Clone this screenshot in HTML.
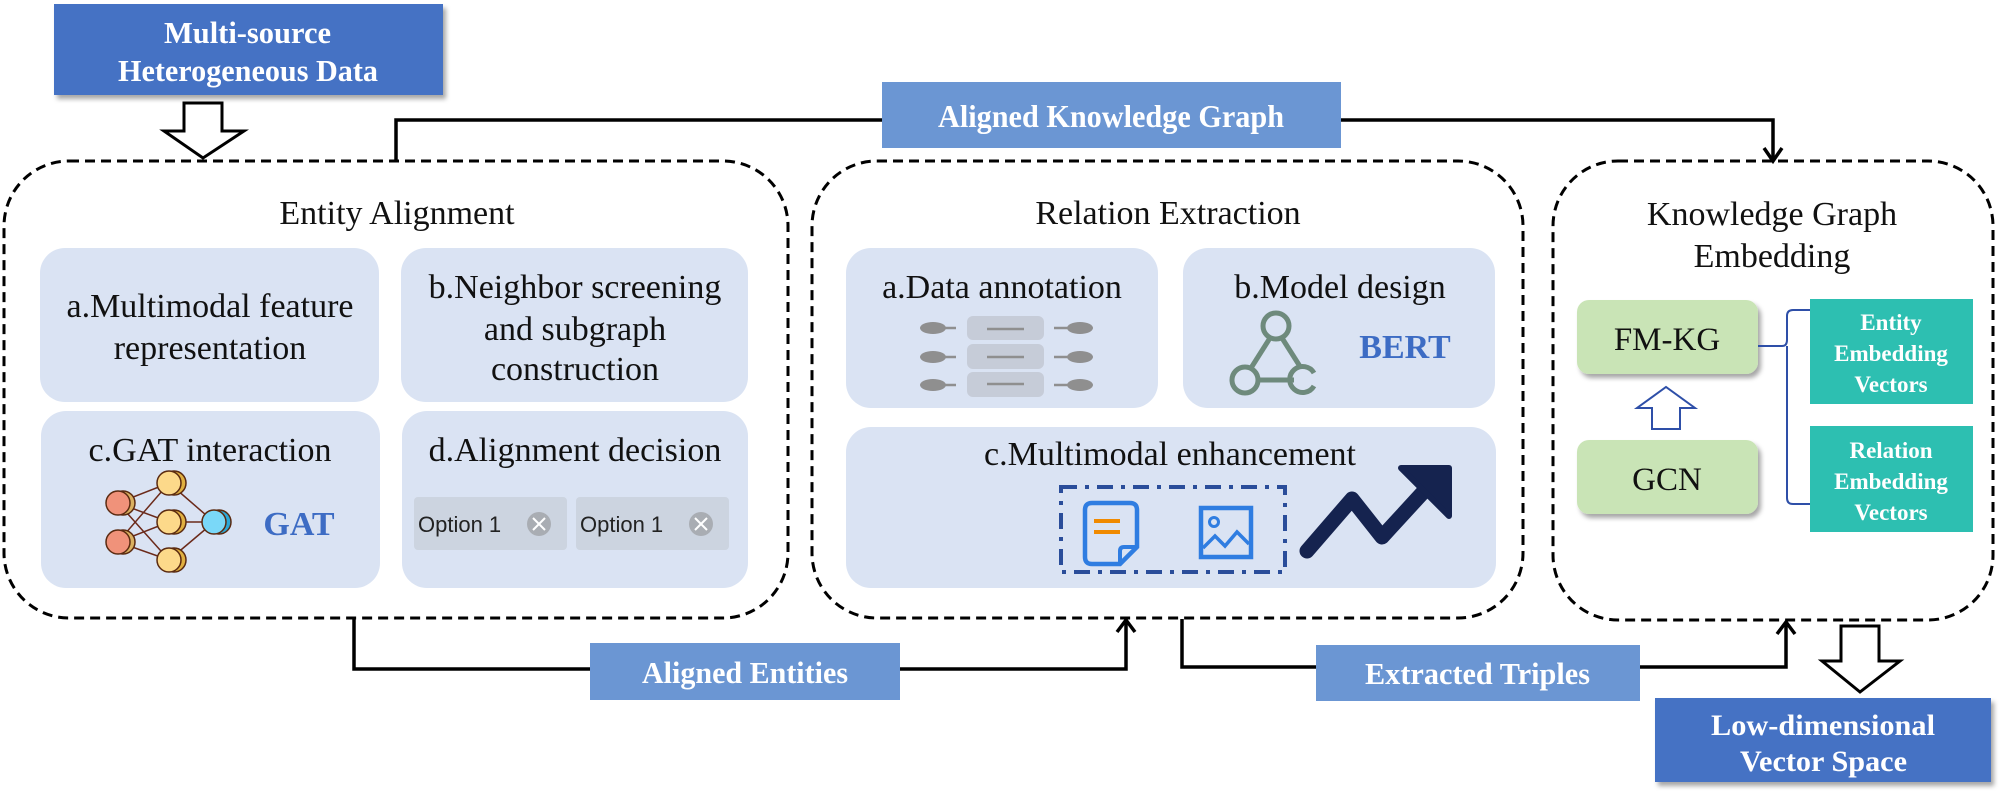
<!DOCTYPE html>
<html><head><meta charset="utf-8"><style>
html,body{margin:0;padding:0;background:#fff}
svg{display:block}
.t{font-family:"Liberation Serif",serif;fill:#111}
.w{font-family:"Liberation Serif",serif;fill:#fff;font-weight:bold}
</style></head><body>
<svg width="2006" height="794" viewBox="0 0 2006 794" xmlns="http://www.w3.org/2000/svg">
<defs>
<filter id="sh" x="-10%" y="-10%" width="130%" height="140%"><feDropShadow dx="3" dy="4" stdDeviation="2.5" flood-color="#000" flood-opacity="0.35"/></filter>
</defs>

<!-- Top blue box -->
<rect x="54" y="4" width="389" height="91" fill="#4472c4" filter="url(#sh)"/>
<text class="w" x="164" y="43" font-size="31" textLength="167" lengthAdjust="spacingAndGlyphs">Multi-source</text>
<text class="w" x="118" y="81" font-size="31" textLength="260" lengthAdjust="spacingAndGlyphs">Heterogeneous Data</text>

<!-- hollow down arrow -->
<path d="M184,103 H222 V131 H244 L203,158 L164,131 H184 Z" fill="#fff" stroke="#000" stroke-width="3"/>

<!-- top connector -->
<path d="M396,161 V120 H1773 V158" fill="none" stroke="#000" stroke-width="3.5"/>
<path d="M1764,148 L1773,161 L1782,148" fill="none" stroke="#000" stroke-width="3.5"/>
<rect x="882" y="82" width="459" height="66" fill="#6b96d3"/>
<text class="w" x="938" y="127" font-size="32" textLength="346" lengthAdjust="spacingAndGlyphs">Aligned Knowledge Graph</text>

<!-- dashed containers -->
<rect x="4" y="161" width="784" height="457" rx="65" fill="none" stroke="#000" stroke-width="3" stroke-dasharray="10 6"/>
<rect x="812" y="161" width="711" height="457" rx="65" fill="none" stroke="#000" stroke-width="3" stroke-dasharray="10 6"/>
<rect x="1553" y="161" width="440" height="459" rx="65" fill="none" stroke="#000" stroke-width="3" stroke-dasharray="10 6"/>

<!-- Entity Alignment -->
<text class="t" x="397" y="224" font-size="34" text-anchor="middle">Entity Alignment</text>
<rect x="40" y="248" width="339" height="154" rx="25" fill="#dae3f3"/>
<rect x="401" y="248" width="347" height="154" rx="25" fill="#dae3f3"/>
<rect x="41" y="411" width="339" height="177" rx="25" fill="#dae3f3"/>
<rect x="402" y="411" width="346" height="177" rx="25" fill="#dae3f3"/>
<text class="t" x="210" y="317" font-size="34" text-anchor="middle">a.Multimodal feature</text>
<text class="t" x="210" y="359" font-size="34" text-anchor="middle">representation</text>
<text class="t" x="575" y="298" font-size="34" text-anchor="middle">b.Neighbor screening</text>
<text class="t" x="575" y="340" font-size="34" text-anchor="middle">and subgraph</text>
<text class="t" x="575" y="380" font-size="34" text-anchor="middle">construction</text>
<text class="t" x="210" y="461" font-size="34" text-anchor="middle">c.GAT interaction</text>
<text class="t" x="575" y="461" font-size="34" text-anchor="middle">d.Alignment decision</text>

<!-- GAT network -->
<g stroke="#6b2a1a" stroke-width="1.5">
<line x1="118" y1="503" x2="169" y2="483"/><line x1="118" y1="503" x2="169" y2="522"/><line x1="118" y1="503" x2="169" y2="560"/>
<line x1="118" y1="542" x2="169" y2="483"/><line x1="118" y1="542" x2="169" y2="522"/><line x1="118" y1="542" x2="169" y2="560"/>
<line x1="169" y1="483" x2="214" y2="522"/><line x1="169" y1="522" x2="214" y2="522"/><line x1="169" y1="560" x2="214" y2="522"/>
</g>
<g stroke="#5a2a10" stroke-width="1.5">
<ellipse cx="123" cy="503" rx="12" ry="12" fill="#d9b060"/><ellipse cx="118" cy="503" rx="12" ry="12" fill="#f0927a"/>
<ellipse cx="123" cy="542" rx="12" ry="12" fill="#d9b060"/><ellipse cx="118" cy="542" rx="12" ry="12" fill="#f0927a"/>
<ellipse cx="174" cy="483" rx="12" ry="12" fill="#e0b040"/><ellipse cx="169" cy="483" rx="12" ry="12" fill="#fcd98a"/>
<ellipse cx="174" cy="522" rx="12" ry="12" fill="#e0b040"/><ellipse cx="169" cy="522" rx="12" ry="12" fill="#fcd98a"/>
<ellipse cx="174" cy="560" rx="12" ry="12" fill="#e0b040"/><ellipse cx="169" cy="560" rx="12" ry="12" fill="#fcd98a"/>
<ellipse cx="219" cy="522" rx="12" ry="12" fill="#2aa8d8"/><ellipse cx="214" cy="522" rx="12" ry="12" fill="#7ad8f8"/>
</g>
<text x="299" y="535" font-family="Liberation Serif,serif" font-weight="bold" font-size="34" fill="#3d6cc4" text-anchor="middle">GAT</text>

<!-- option chips -->
<rect x="414" y="497" width="153" height="53" rx="4" fill="#ccd4e0"/>
<rect x="576" y="497" width="153" height="53" rx="4" fill="#ccd4e0"/>
<text x="418" y="532" font-family="Liberation Sans,sans-serif" font-size="22" fill="#222">Option 1</text>
<text x="580" y="532" font-family="Liberation Sans,sans-serif" font-size="22" fill="#222">Option 1</text>
<circle cx="539" cy="524" r="12" fill="#a9adb3"/><circle cx="701" cy="524" r="12" fill="#a9adb3"/>
<g stroke="#fff" stroke-width="2"><path d="M533,518 L545,530 M545,518 L533,530"/><path d="M695,518 L707,530 M707,518 L695,530"/></g>

<!-- Relation Extraction -->
<text class="t" x="1168" y="224" font-size="34" text-anchor="middle">Relation Extraction</text>
<rect x="846" y="248" width="312" height="160" rx="25" fill="#dae3f3"/>
<rect x="1183" y="248" width="312" height="160" rx="25" fill="#dae3f3"/>
<rect x="846" y="427" width="650" height="161" rx="25" fill="#dae3f3"/>
<text class="t" x="1002" y="298" font-size="34" text-anchor="middle">a.Data annotation</text>
<text class="t" x="1340" y="298" font-size="34" text-anchor="middle">b.Model design</text>
<!-- annotation icon -->
<g fill="#c6ccd8"><rect x="967" y="316" width="77" height="24" rx="6"/><rect x="967" y="344" width="77" height="25" rx="6"/><rect x="967" y="372" width="77" height="25" rx="6"/></g>
<g stroke="#8f8f8f" stroke-width="2.5"><line x1="987" y1="329" x2="1024" y2="329"/><line x1="987" y1="357" x2="1024" y2="357"/><line x1="987" y1="384" x2="1024" y2="384"/>
<line x1="940" y1="328" x2="956" y2="328"/><line x1="940" y1="357" x2="956" y2="357"/><line x1="940" y1="385" x2="956" y2="385"/>
<line x1="1054" y1="328" x2="1070" y2="328"/><line x1="1054" y1="357" x2="1070" y2="357"/><line x1="1054" y1="385" x2="1070" y2="385"/></g>
<g fill="#8f8f8f"><ellipse cx="933" cy="328" rx="13" ry="6"/><ellipse cx="933" cy="357" rx="13" ry="6"/><ellipse cx="933" cy="385" rx="13" ry="6"/>
<ellipse cx="1080" cy="328" rx="13" ry="6"/><ellipse cx="1080" cy="357" rx="13" ry="6"/><ellipse cx="1080" cy="385" rx="13" ry="6"/></g>
<!-- model icon -->
<g fill="none" stroke="#6e8a7c" stroke-width="5">
<circle cx="1276" cy="326" r="13"/><circle cx="1245" cy="380" r="13"/>
<path d="M1314,386 A13,13 0 1 1 1314,373"/>
<line x1="1270" y1="338" x2="1251" y2="368"/><line x1="1282" y1="338" x2="1301" y2="368"/><line x1="1258" y1="380" x2="1294" y2="380"/>
</g>
<text x="1405" y="358" font-family="Liberation Serif,serif" font-weight="bold" font-size="34" fill="#3d6cc4" text-anchor="middle">BERT</text>
<text class="t" x="1170" y="465" font-size="34" text-anchor="middle">c.Multimodal enhancement</text>
<rect x="1061" y="487" width="224" height="85" fill="none" stroke="#2a4d9a" stroke-width="4" stroke-dasharray="16 8 4 8"/>
<!-- doc icon -->
<path d="M1092,503 H1130 Q1137,503 1137,510 V547 L1120,564 H1092 Q1085,564 1085,557 V510 Q1085,503 1092,503 Z" fill="none" stroke="#2f7de1" stroke-width="4.5"/>
<path d="M1137,547 H1124 Q1120,547 1120,551 V564" fill="none" stroke="#2f7de1" stroke-width="4"/>
<g stroke="#f08a00" stroke-width="4"><line x1="1094" y1="521" x2="1120" y2="521"/><line x1="1094" y1="532" x2="1120" y2="532"/></g>
<!-- image icon -->
<rect x="1201" y="508" width="50" height="49" fill="none" stroke="#2f7de1" stroke-width="4.5"/>
<circle cx="1214" cy="522" r="4.5" fill="none" stroke="#2f7de1" stroke-width="3"/>
<path d="M1203,548 L1215,536 L1225,546 L1237,532 L1249,544" fill="none" stroke="#2f7de1" stroke-width="3.5"/>
<!-- trend arrow -->
<path d="M1307,551 L1352,499 L1382,537 L1438,476" fill="none" stroke="#15234f" stroke-width="15" stroke-linecap="round" stroke-linejoin="round"/>
<path d="M1401,468 L1449,468 L1449,516 Z" fill="#15234f" stroke="#15234f" stroke-width="6" stroke-linejoin="round"/>

<!-- KGE -->
<text class="t" x="1772" y="225" font-size="34" text-anchor="middle">Knowledge Graph</text>
<text class="t" x="1772" y="267" font-size="34" text-anchor="middle">Embedding</text>
<rect x="1577" y="300" width="181" height="74" rx="12" fill="#c9e4b6" filter="url(#sh)"/>
<rect x="1577" y="440" width="181" height="74" rx="12" fill="#c9e4b6" filter="url(#sh)"/>
<text class="t" x="1667" y="350" font-size="33" text-anchor="middle">FM-KG</text>
<text class="t" x="1667" y="490" font-size="33" text-anchor="middle">GCN</text>
<path d="M1652,429 V408 H1637 L1666,387 L1695,408 H1680 V429 Z" fill="#fff" stroke="#2e4fa8" stroke-width="2"/>
<path d="M1758,346 H1782 Q1787,346 1787,340 V316 Q1787,310 1793,310 H1810 M1787,346 V498 Q1787,504 1793,504 H1810" fill="none" stroke="#2e4fa8" stroke-width="2"/>
<rect x="1810" y="299" width="163" height="105" fill="#2dbfb1"/>
<rect x="1810" y="426" width="163" height="106" fill="#2dbfb1"/>
<text class="w" x="1891" y="330" font-size="23" text-anchor="middle">Entity</text>
<text class="w" x="1891" y="361" font-size="23" text-anchor="middle">Embedding</text>
<text class="w" x="1891" y="392" font-size="23" text-anchor="middle">Vectors</text>
<text class="w" x="1891" y="458" font-size="23" text-anchor="middle">Relation</text>
<text class="w" x="1891" y="489" font-size="23" text-anchor="middle">Embedding</text>
<text class="w" x="1891" y="520" font-size="23" text-anchor="middle">Vectors</text>

<!-- bottom connectors -->
<path d="M354,618 V669 H1126 V622" fill="none" stroke="#000" stroke-width="3.5"/>
<path d="M1117,632 L1126,620 L1135,632" fill="none" stroke="#000" stroke-width="3.5"/>
<rect x="590" y="643" width="310" height="57" fill="#6b96d3"/>
<text class="w" x="642" y="683" font-size="31" textLength="206" lengthAdjust="spacingAndGlyphs">Aligned Entities</text>
<path d="M1182,619 V667 H1786 V624" fill="none" stroke="#000" stroke-width="3.5"/>
<path d="M1777,634 L1786,622 L1795,634" fill="none" stroke="#000" stroke-width="3.5"/>
<rect x="1316" y="645" width="324" height="56" fill="#6b96d3"/>
<text class="w" x="1365" y="684" font-size="31" textLength="225" lengthAdjust="spacingAndGlyphs">Extracted Triples</text>

<!-- bottom-right -->
<path d="M1841,626 H1879 V661 H1900 L1860,692 L1822,661 H1841 Z" fill="#fff" stroke="#000" stroke-width="3"/>
<rect x="1655" y="698" width="336" height="84" fill="#4472c4" filter="url(#sh)"/>
<text class="w" x="1711" y="735" font-size="30" textLength="224" lengthAdjust="spacingAndGlyphs">Low-dimensional</text>
<text class="w" x="1740" y="771" font-size="30" textLength="167" lengthAdjust="spacingAndGlyphs">Vector Space</text>
</svg>
</body></html>
